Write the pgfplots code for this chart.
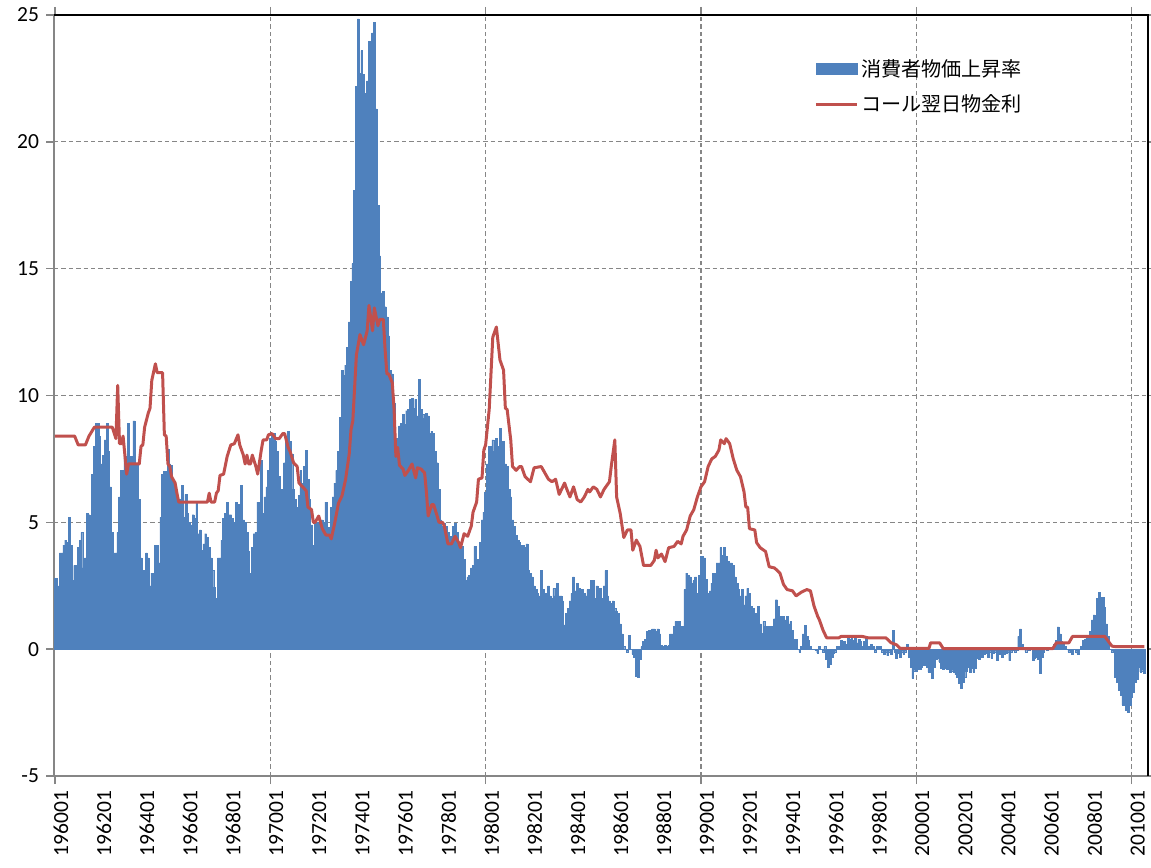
\documentclass[border=0pt]{standalone}
\usepackage{fontspec}
\setmainfont{Carlito}
\newfontfamily\cjk{Noto Sans CJK JP}
\usepackage{pgfplots}
\usepackage{pgfplotstable}
\pgfplotsset{compat=1.18}
\definecolor{cpiblue}{HTML}{4F81BD}
\definecolor{callred}{HTML}{C0504D}
\definecolor{axgray}{HTML}{868686}
% monthly CPI inflation, 1960-01 onwards
\pgfplotstableread[row sep=\\]{
v\\
2.8\\2.8\\2.5\\3.8\\3.8\\4.1\\4.3\\4.2\\5.2\\4.1\\2.7\\3.3\\
3.3\\4.0\\4.3\\4.6\\3.2\\3.6\\5.35\\5.3\\5.2\\6.9\\8.0\\8.9\\
8.9\\8.4\\7.3\\7.65\\8.25\\8.9\\7.8\\6.4\\4.6\\3.8\\3.8\\4.6\\
6.0\\7.05\\7.05\\7.6\\7.6\\8.9\\7.6\\7.6\\9.0\\7.3\\7.3\\5.9\\
3.6\\3.1\\3.1\\3.8\\3.6\\2.5\\3.0\\3.0\\4.1\\4.1\\3.4\\5.2\\
6.9\\7.0\\7.0\\7.9\\7.3\\7.25\\6.65\\6.3\\6.0\\5.75\\5.9\\6.45\\
5.2\\6.1\\5.35\\5.0\\4.9\\5.3\\5.15\\5.75\\4.55\\4.7\\3.9\\4.15\\
4.55\\4.4\\4.0\\3.6\\3.1\\2.45\\2.0\\3.6\\3.6\\4.3\\5.15\\5.35\\
5.8\\5.3\\5.3\\5.15\\5.0\\5.8\\5.7\\5.7\\6.45\\5.1\\5.0\\4.6\\
3.85\\3.0\\4.0\\4.55\\4.6\\5.8\\5.8\\7.45\\5.35\\6.0\\6.4\\7.05\\
8.3\\8.5\\8.5\\8.2\\7.8\\6.8\\6.3\\5.8\\7.35\\8.35\\8.6\\8.2\\
7.7\\6.3\\5.9\\5.6\\6.05\\7.05\\6.55\\7.2\\7.85\\6.7\\5.9\\4.9\\
4.1\\5.0\\5.0\\4.75\\5.1\\5.1\\5.0\\5.8\\3.7\\4.8\\5.6\\6.0\\
6.55\\7.05\\7.8\\9.15\\11.0\\10.8\\11.2\\11.9\\12.9\\14.5\\15.2\\18.1\\
22.2\\24.85\\22.7\\23.6\\22.65\\21.9\\22.4\\23.95\\23.9\\24.3\\24.7\\21.3\\
17.5\\15.5\\14.05\\14.1\\13.5\\13.1\\12.35\\11.0\\10.85\\9.7\\8.3\\8.2\\
8.8\\8.9\\9.25\\8.85\\9.4\\9.45\\9.85\\9.9\\9.5\\9.85\\9.2\\10.65\\
9.45\\9.25\\9.1\\9.3\\9.2\\8.5\\8.6\\8.5\\7.8\\7.35\\6.3\\5.1\\
4.85\\4.95\\4.85\\4.6\\4.2\\4.45\\4.85\\4.95\\4.6\\4.2\\3.95\\4.05\\
3.55\\2.7\\2.85\\2.9\\3.2\\3.3\\4.05\\3.15\\3.55\\4.2\\5.1\\5.4\\
6.2\\7.3\\8.0\\8.0\\8.25\\7.8\\8.3\\8.0\\8.7\\7.8\\8.2\\7.3\\
7.2\\6.3\\6.0\\5.1\\4.85\\4.5\\4.3\\4.2\\4.1\\4.1\\4.0\\4.15\\
3.1\\3.0\\2.85\\2.5\\2.35\\2.2\\2.1\\3.1\\2.35\\2.2\\2.1\\2.5\\
2.1\\2.0\\2.4\\2.1\\2.6\\2.1\\2.1\\1.9\\0.96\\1.4\\1.6\\1.9\\
2.2\\2.85\\2.3\\2.6\\2.4\\1.95\\2.35\\2.2\\2.1\\2.35\\2.2\\2.7\\
2.7\\2.0\\2.5\\1.95\\2.4\\2.0\\2.5\\3.1\\2.1\\1.9\\1.8\\1.9\\
1.6\\1.5\\1.4\\1.0\\0.6\\0.1\\0.0\\-0.1\\0.55\\0.0\\-0.2\\-0.3\\
-1.05\\-1.1\\-0.4\\0.1\\0.3\\0.4\\0.7\\0.75\\0.7\\0.8\\0.8\\0.7\\
0.8\\0.6\\0.15\\0.1\\0.15\\0.1\\0.15\\0.6\\0.6\\0.9\\1.1\\0.9\\
1.1\\0.9\\0.9\\2.35\\3.0\\2.9\\2.85\\2.6\\2.7\\2.85\\2.2\\2.9\\
3.65\\3.65\\3.6\\2.75\\2.2\\2.3\\2.6\\3.0\\3.0\\3.4\\3.4\\4.0\\
3.7\\4.0\\3.65\\3.45\\3.4\\3.4\\3.3\\2.85\\2.6\\2.35\\2.1\\2.35\\
1.75\\2.1\\2.4\\2.2\\1.7\\1.6\\1.15\\1.4\\1.7\\1.0\\0.63\\1.1\\
0.9\\0.9\\0.9\\0.9\\0.9\\1.2\\1.95\\1.7\\1.3\\1.0\\1.3\\1.15\\
1.3\\1.0\\1.1\\0.75\\0.4\\0.4\\0.0\\-0.1\\0.1\\0.6\\0.95\\0.5\\
0.35\\0.1\\0.0\\0.0\\-0.05\\-0.15\\0.1\\0.0\\-0.1\\0.1\\-0.4\\-0.7\\
-0.6\\-0.3\\-0.15\\-0.1\\0.1\\0.1\\0.35\\0.25\\0.3\\0.2\\0.5\\0.4\\
0.5\\0.35\\0.5\\0.25\\0.4\\0.3\\0.1\\0.3\\0.45\\0.1\\0.0\\0.2\\
0.1\\-0.1\\0.1\\0.0\\0.1\\-0.1\\-0.2\\-0.1\\-0.25\\-0.1\\-0.2\\0.75\\
-0.1\\-0.35\\-0.15\\-0.3\\-0.1\\-0.2\\-0.1\\0.2\\-0.3\\-0.7\\-1.15\\-0.85\\
-0.85\\-0.8\\-0.8\\-0.7\\-0.65\\-0.65\\-0.7\\-0.9\\-0.8\\-1.15\\-0.7\\-0.4\\
-0.35\\-0.5\\-0.75\\-0.8\\-0.75\\-0.8\\-0.8\\-0.9\\-0.85\\-0.9\\-1.0\\-1.1\\
-1.35\\-1.55\\-1.3\\-1.1\\-0.85\\-0.7\\-0.9\\-0.75\\-0.9\\-0.75\\-0.35\\-0.4\\
-0.3\\-0.3\\-0.2\\-0.15\\-0.3\\-0.1\\-0.35\\-0.15\\-0.1\\-0.45\\-0.2\\-0.1\\
-0.3\\-0.2\\-0.15\\-0.1\\-0.45\\-0.1\\-0.05\\-0.1\\-0.05\\0.5\\0.8\\0.2\\
0.0\\-0.1\\0.0\\-0.05\\0.0\\-0.45\\-0.35\\-0.3\\-0.4\\-0.95\\-0.3\\-0.1\\
0.0\\-0.05\\0.0\\0.05\\0.0\\0.2\\0.35\\0.88\\0.6\\0.3\\0.25\\0.1\\
0.0\\-0.1\\-0.05\\-0.2\\0.0\\-0.1\\-0.2\\0.0\\0.1\\0.35\\0.4\\0.5\\
0.45\\0.7\\1.15\\1.35\\1.3\\2.0\\2.25\\2.05\\2.05\\1.65\\1.0\\0.5\\
0.0\\-0.1\\-0.1\\-1.1\\-1.3\\-1.6\\-1.8\\-2.2\\-2.2\\-2.4\\-2.5\\-2.2\\
-1.9\\-1.7\\-1.3\\-1.2\\-0.7\\-0.9\\-0.85\\-0.95\\
}\cpi
\begin{document}
\begin{tikzpicture}
\begin{axis}[
  name=ax,
  scale only axis, width=547bp, height=380.5bp,
  xmin=-0.5, xmax=609.1, ymin=-5, ymax=25,
  axis line style={draw=axgray, line width=0.75bp},
  ytick={-5,0,5,10,15,20,25},
  yticklabels={-5,0,5,10,15,20,25},
  xtick={0,24,...,600},
  xticklabels={196001,196201,196401,196601,196801,197001,197201,197401,197601,197801,198001,198201,198401,198601,198801,199001,199201,199401,199601,199801,200001,200201,200401,200601,200801,201001},
  xtick style={draw=none},
  ytick style={draw=axgray, line width=0.75bp},
  tick align=outside,
  major tick length=4bp,
  ymajorgrids,
  grid style={draw=axgray, line width=0.55bp, dash pattern=on 2.2bp off 1.5bp},
  extra x ticks={0,120,240,360,480,600},
  extra x tick labels={},
  extra x tick style={grid=major, xtick style={draw=axgray, line width=0.75bp}},
  tick label style={font=\fontsize{10.8}{12.5}\selectfont},
  xticklabel style={rotate=90, anchor=east, yshift=-3bp},
  legend cell align=left,
  legend style={at={(0.6947,0.946)}, anchor=north west, draw=none, fill=none,
    inner sep=0pt, row sep=5.2bp, font=\cjk\fontsize{10.1}{12}\selectfont,
    nodes={inner sep=1.3bp}},
]
\addplot[ybar, bar width=1.02, fill=cpiblue, draw=cpiblue, line width=0.2bp,
  legend image code/.code={\fill[cpiblue] (0bp,-2.75bp) rectangle (20.5bp,2.75bp);}]
  table[x expr=\coordindex, y=v] {\cpi};
\addlegendentry{消費者物価上昇率}
\addplot[callred, line width=1.5bp, line join=round, mark=none,
  legend image code/.code={\draw[callred, line width=1.5bp] (0bp,0bp) -- (20.5bp,0bp);}]
  coordinates {
(0,8.4) (11,8.4) (13,8.05) (17,8.05) (19,8.4) (22,8.75) (32,8.75) (34,8.3) (35,10.4) (36,8.1) (37,8.1) (38,8.4)
(40,6.9) (41,7.3) (47,7.3) (48,8.0) (49,8.05) (50,8.75) (52,9.3) (53,9.5) (54,10.6) (56,11.25) (57,10.9) (60,10.9)
(61,8.45) (62,8.4) (63,7.3) (64,7.2) (65,6.8) (67,6.55) (68,6.15) (69,5.8) (85,5.8) (86,6.15) (87,5.8) (89,5.8)
(90,6.15) (91,6.25) (92,6.85) (94,6.9) (96,7.6) (98,8.05) (100,8.1) (102,8.45) (103,8.05) (105,7.65) (106,7.3)
(107,7.65) (108,7.3) (109,7.3) (110,7.65) (112,7.2) (113,6.9) (115,7.85) (116,8.25) (118,8.25) (119,8.45)
(121,8.5) (123,8.3) (125,8.3) (127,8.5) (128,8.5) (130,7.95) (131,7.8) (133,7.35) (135,7.2) (136,6.55) (138,6.4)
(140,6.25) (141,5.6) (143,5.5) (144,5.0) (145,5.0) (147,5.25) (149,4.75) (151,4.5) (153,4.5) (154,4.35) (156,5.0)
(158,5.75) (160,6.05) (162,6.7) (164,7.7) (165,8.65) (166,9.0) (168,11.6) (170,12.4) (172,12.0) (174,12.55)
(175,13.55) (177,12.55) (178,13.45) (180,12.75) (181,13.0) (183,13.0) (184,11.8) (185,10.85) (186,10.85) (188,10.5)
(189,9.45) (190,7.6) (191,7.95) (192,7.25) (194,7.1) (195,6.85) (197,7.05) (199,7.3) (201,6.75) (202,7.15)
(204,7.1) (206,6.95) (207,6.2) (208,5.25) (210,5.7) (211,5.7) (213,5.25) (214,5.0) (216,5.0) (217,4.85) (219,4.15)
(221,4.15) (223,4.45) (225,4.2) (226,4.0) (228,4.55) (230,4.45) (232,4.85) (233,5.4) (235,5.8) (236,6.7) (238,6.75)
(239,7.85) (240,8.05) (242,9.45) (244,12.3) (246,12.7) (248,11.4) (250,11.0) (251,9.5) (252,9.45) (254,8.25)
(255,7.2) (257,7.05) (259,7.2) (260,7.2) (262,6.8) (265,6.6) (267,7.15) (271,7.2) (273,6.95) (275,6.7) (277,6.6)
(279,6.7) (281,6.1) (284,6.55) (285,6.35) (287,6.0) (289,6.4) (291,5.9) (293,5.8) (295,6.0) (297,6.3) (298,6.2)
(300,6.4) (302,6.3) (304,6.0) (306,6.3) (309,6.6) (310,7.2) (312,8.25) (313,6.0) (315,5.35) (317,4.4) (319,4.7)
(321,4.7) (322,3.9) (324,4.3) (326,4.05) (328,3.3) (332,3.3) (334,3.5) (335,3.9) (336,3.6) (338,3.75) (340,3.45)
(342,4.0) (345,4.05) (347,4.25) (349,4.15) (350,4.45) (352,4.7) (354,5.25) (356,5.5) (358,6.0) (360,6.4) (362,6.6)
(364,7.2) (366,7.5) (368,7.6) (370,7.85) (371,8.25) (373,8.1) (374,8.3) (376,8.1) (378,7.5) (380,7.05) (382,6.8)
(384,6.2) (385,5.6) (386,5.6) (387,4.75) (390,4.7) (391,4.2) (393,4.0) (396,3.85) (398,3.25) (401,3.2) (404,3.0)
(406,2.55) (408,2.35) (411,2.3) (413,2.1) (416,2.25) (419,2.35) (421,2.3) (423,1.7) (425,1.3) (426,1.15) (428,0.75)
(430,0.45) (437,0.45) (438,0.5) (450,0.5) (453,0.45) (463,0.45) (466,0.25) (469,0.17) (471,0.03) (487,0.03)
(488,0.25) (493,0.25) (495,0.02) (556,0.02) (558,0.25) (565,0.25) (567,0.5) (585,0.5) (589,0.12) (591,0.1) (607,0.1)
  };
\addlegendentry{コール翌日物金利}
\end{axis}
\draw[black, line width=0.75bp] (ax.north west) -- (ax.north east) -- (ax.south east);
\pgfresetboundingbox
\path[use as bounding box] ([xshift=-27bp,yshift=-46bp]ax.south west) rectangle ([xshift=1.5bp,yshift=7.5bp]ax.north east);
\end{tikzpicture}
\end{document}
